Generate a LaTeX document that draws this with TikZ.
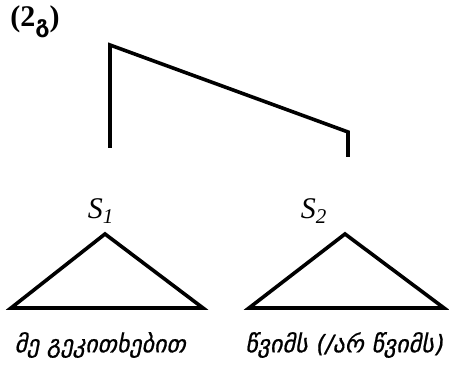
\documentclass[tikz,border=0pt]{standalone}
\usepackage{fontspec}
\setmainfont{Liberation Serif}
\newfontfamily\geofont[Script=Georgian,FakeSlant=0.2,FakeBold=0.8]{DejaVu Sans}
\newfontfamily\geobold[Script=Georgian]{DejaVu Sans}
\usetikzlibrary{positioning}
\tikzset{
  branch/.style={line width=1.8pt,line join=miter},
  tri/.style={line width=1.8pt,line join=miter},
  cat/.style={font=\fontsize{15}{17}\selectfont\itshape,inner sep=0pt},
  leaf/.style={font=\fontsize{12}{14}\selectfont\geofont,inner sep=0pt}
}

\begin{document}
\begin{tikzpicture}[x=0.5pt,y=-0.5pt]
 \useasboundingbox (0,0) rectangle (449,367);
 % example number
 \node[inner sep=0pt,font=\fontsize{15}{17}\selectfont\bfseries] (num) at (35,22)
  {(2\raisebox{-0.4ex}{\geobold\bfseries\fontsize{11.5}{12}\selectfont გ})};
 % the joining branch
 \coordinate (top1) at (110,45);
 \coordinate (top2) at (348,132);
 \coordinate (foot1) at (110,148);
 \coordinate (foot2) at (348,157);
 \draw[branch] (foot1) -- (top1) -- (top2) -- (foot2);
 % S nodes
 \node[cat] (s1) at (101,211) {S\textsubscript{1}};
 \node[cat] (s2) at (314,211) {S\textsubscript{2}};
 % triangles
 \draw[tri] (105,234) -- (203,308) -- (11,308) -- cycle;
 \draw[tri] (345,234) -- (444,308) -- (249,308) -- cycle;
 % leaves
 \node[leaf] (w1) at (100,345) {მე გეკითხებით};
 \node[leaf] (w2) at (344,345) {წვიმს (/არ წვიმს)};
\end{tikzpicture}
\end{document}
